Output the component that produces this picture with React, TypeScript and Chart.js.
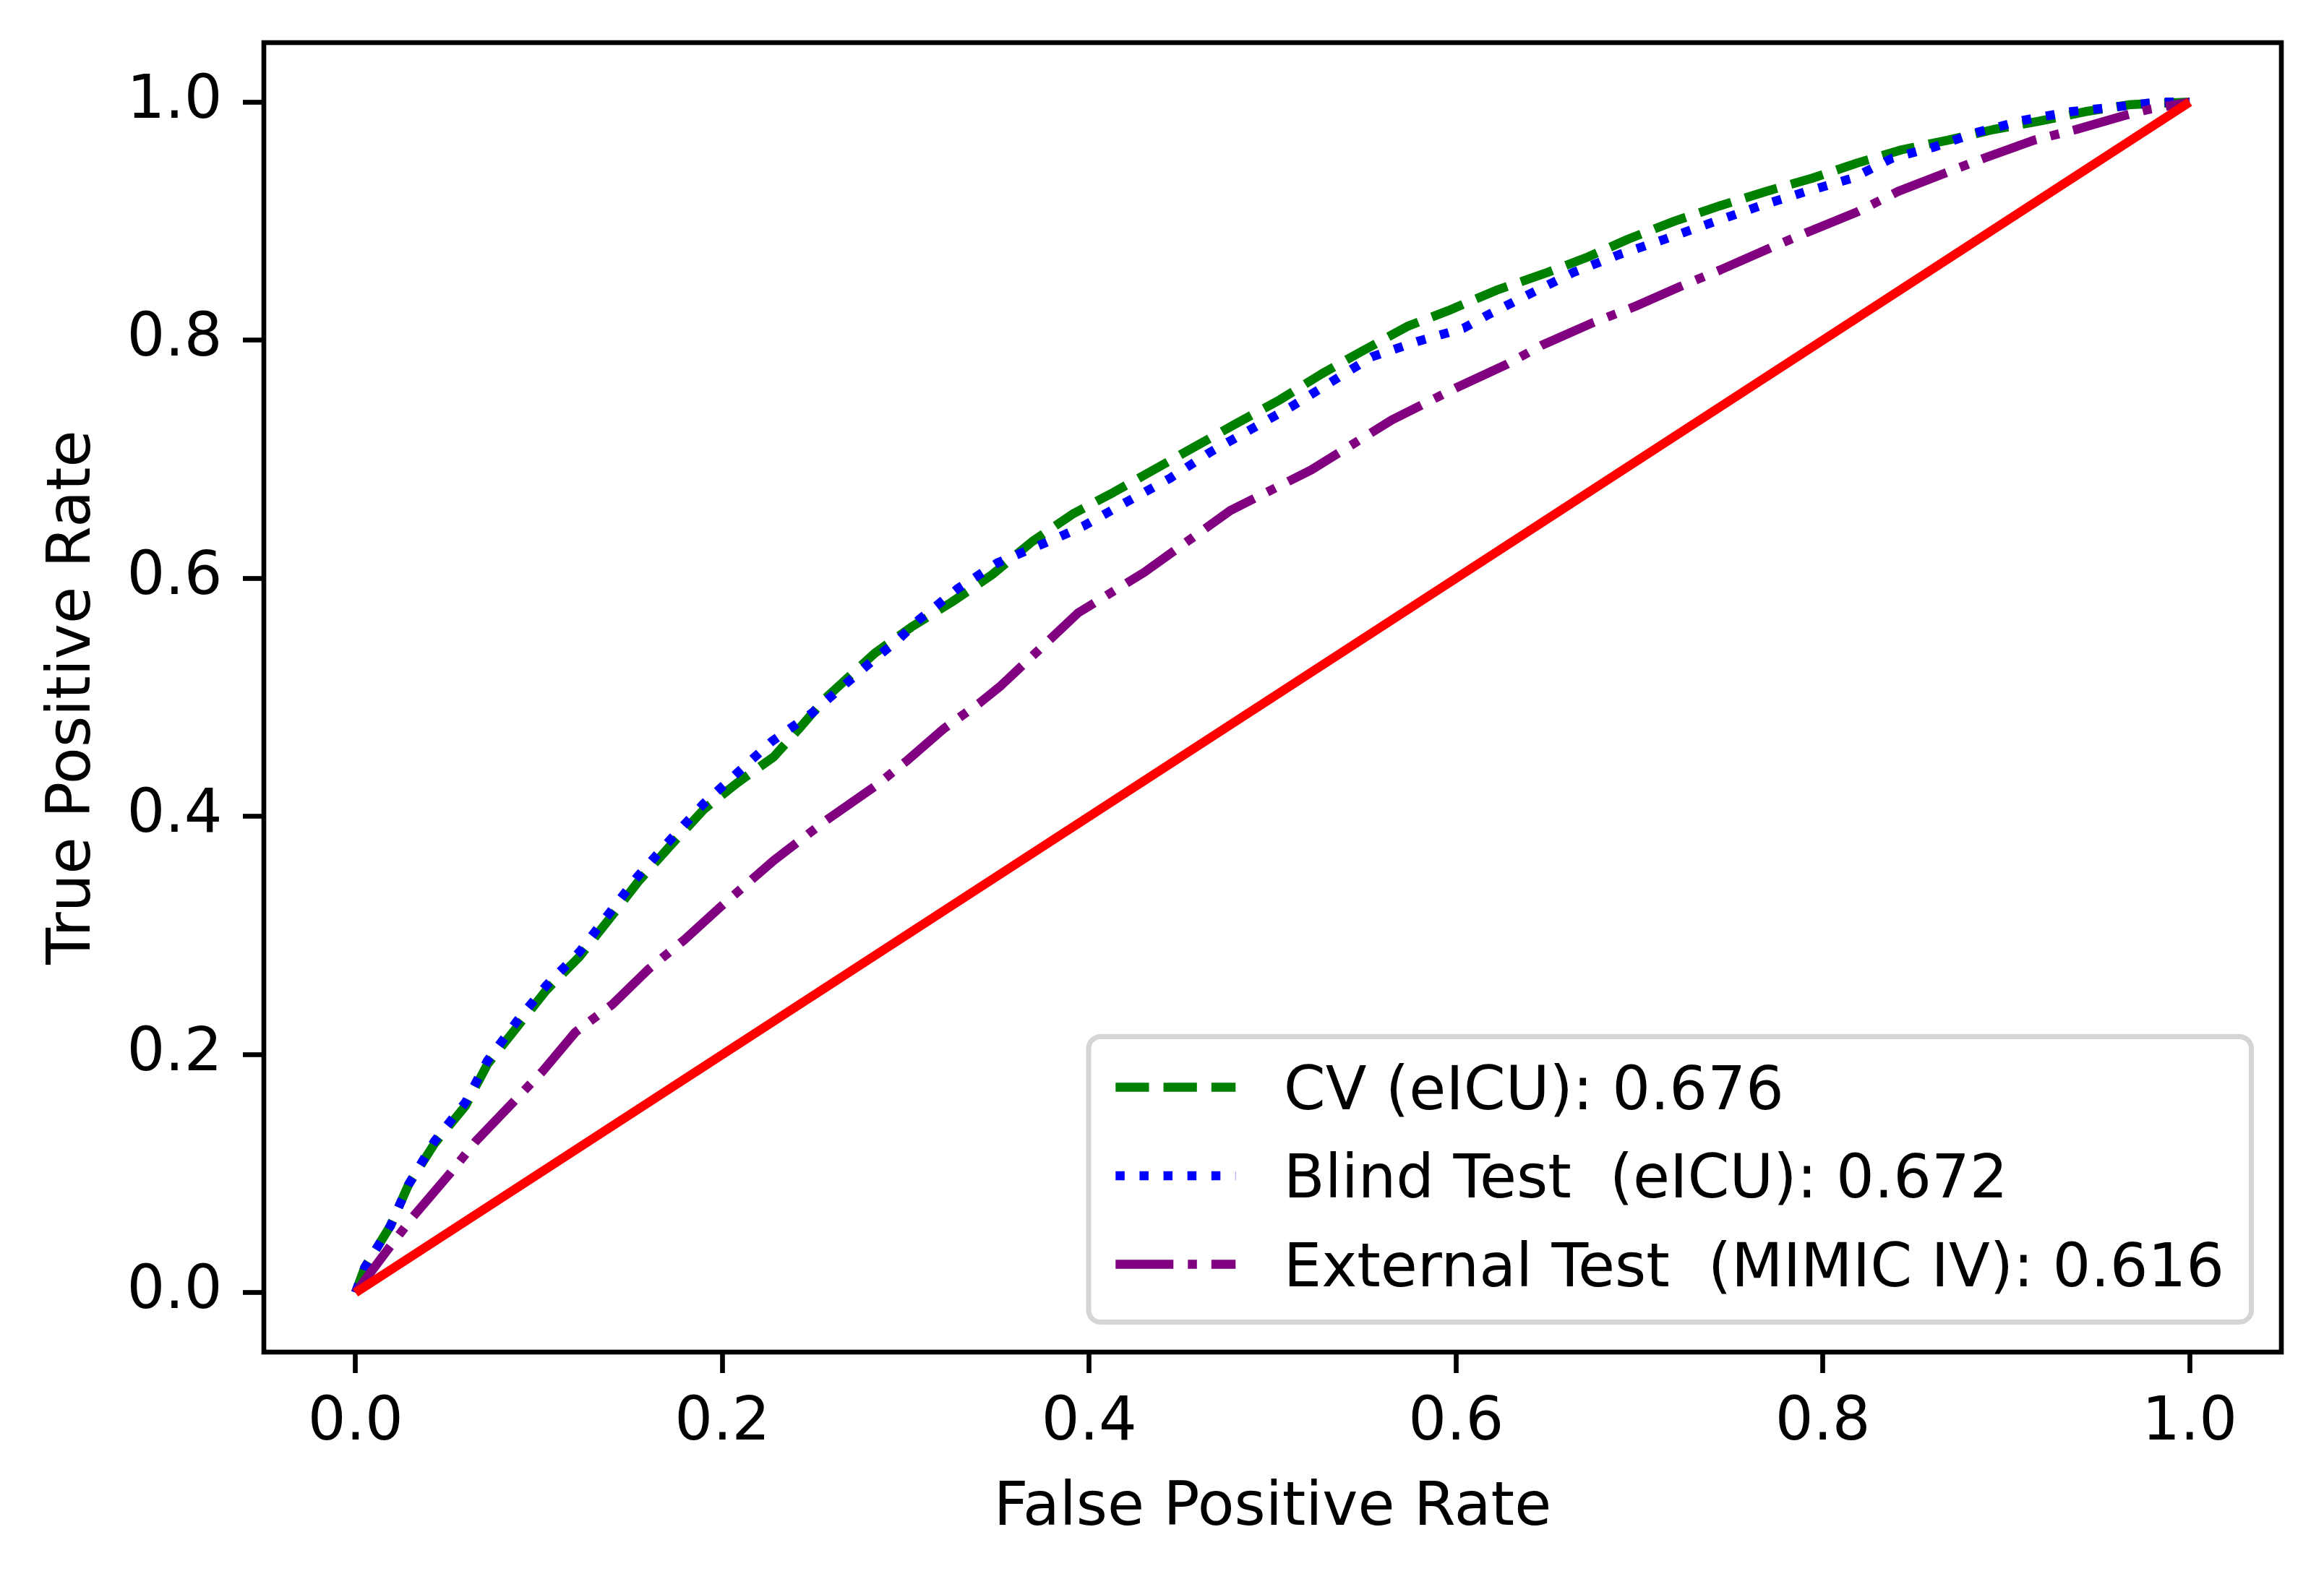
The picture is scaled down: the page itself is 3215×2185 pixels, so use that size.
import React, { useEffect, useRef } from "react";
import { Chart, registerables } from "chart.js";

Chart.register(...registerables);

// ---------- data ----------
const CV_FPR = [0, 0.005, 0.019, 0.029, 0.043, 0.06, 0.072, 0.088, 0.104, 0.122, 0.14, 0.154, 0.172, 0.19, 0.208, 0.228, 0.242, 0.256, 0.283, 0.303, 0.325, 0.347, 0.369, 0.391, 0.413, 0.435, 0.457, 0.479, 0.504, 0.527, 0.549, 0.574, 0.596, 0.622, 0.65, 0.672, 0.694, 0.719, 0.744, 0.769, 0.794, 0.819, 0.843, 0.868, 0.893, 0.918, 0.943, 0.968, 1];
const CV_TPR = [0, 0.021, 0.056, 0.091, 0.125, 0.157, 0.192, 0.223, 0.254, 0.282, 0.317, 0.345, 0.376, 0.406, 0.428, 0.45, 0.474, 0.499, 0.537, 0.559, 0.58, 0.603, 0.631, 0.654, 0.672, 0.691, 0.71, 0.729, 0.75, 0.772, 0.791, 0.812, 0.825, 0.842, 0.857, 0.87, 0.885, 0.9, 0.913, 0.925, 0.936, 0.949, 0.96, 0.968, 0.977, 0.984, 0.992, 0.998, 1];

const BLIND_FPR = [0, 0.005, 0.019, 0.029, 0.043, 0.06, 0.072, 0.088, 0.104, 0.122, 0.14, 0.154, 0.172, 0.19, 0.207, 0.227, 0.249, 0.258, 0.279, 0.297, 0.307, 0.328, 0.35, 0.361, 0.384, 0.397, 0.419, 0.444, 0.466, 0.488, 0.51, 0.532, 0.554, 0.579, 0.604, 0.617, 0.639, 0.664, 0.689, 0.714, 0.738, 0.766, 0.791, 0.816, 0.838, 0.86, 0.885, 0.91, 0.935, 0.96, 0.982, 1];
const BLIND_TPR = [0, 0.021, 0.056, 0.091, 0.127, 0.16, 0.195, 0.228, 0.258, 0.286, 0.322, 0.35, 0.381, 0.411, 0.435, 0.463, 0.487, 0.499, 0.527, 0.55, 0.565, 0.591, 0.613, 0.62, 0.635, 0.644, 0.663, 0.684, 0.706, 0.725, 0.744, 0.765, 0.786, 0.799, 0.81, 0.821, 0.838, 0.857, 0.872, 0.885, 0.898, 0.913, 0.925, 0.936, 0.953, 0.962, 0.975, 0.985, 0.992, 0.996, 1.0, 1];

const EXT_FPR = [0, 0.017, 0.0315, 0.052, 0.0655, 0.086, 0.102, 0.12, 0.14, 0.16, 0.179, 0.199, 0.228, 0.256, 0.283, 0.3, 0.321, 0.34, 0.352, 0.394, 0.43, 0.477, 0.521, 0.565, 0.6, 0.628, 0.647, 0.675, 0.697, 0.722, 0.744, 0.772, 0.792, 0.819, 0.841, 0.866, 0.888, 0.915, 0.938, 0.965, 0.978, 1];
const EXT_TPR = [0, 0.035, 0.064, 0.101, 0.127, 0.16, 0.186, 0.219, 0.242, 0.272, 0.296, 0.324, 0.363, 0.396, 0.425, 0.446, 0.474, 0.495, 0.51, 0.571, 0.605, 0.657, 0.691, 0.733, 0.76, 0.78, 0.796, 0.815, 0.828, 0.845, 0.859, 0.878, 0.891, 0.908, 0.925, 0.94, 0.953, 0.968, 0.977, 0.989, 0.994, 1];

const DIAG_FPR = [0, 1];
const DIAG_TPR = [0, 1];

const SERIES_LABELS = ["CV (eICU): 0.676", "Blind Test  (eICU): 0.672", "External Test  (MIMIC IV): 0.616"];
const X_TICKS = [0, 0.2, 0.4, 0.6, 0.8, 1.0];
const Y_TICKS = [0, 0.2, 0.4, 0.6, 0.8, 1.0];
const X_TITLE = "False Positive Rate";
const Y_TITLE = "True Positive Rate";

// ---------- styles ----------
const W = 3215;
const H = 2185;
const FS = 83;
const FONT_FAMILY = '"DejaVu Sans", "Liberation Sans", sans-serif';
const LW = 12.5;
const SPINE_W = 6.67;

const toPts = (xs: number[], ys: number[]) => xs.map((x, i) => ({ x, y: ys[i] }));

const framePlugin = {
  id: "mplFrame",
  afterDatasetsDraw(chart: any) {
    const { ctx, chartArea } = chart;
    ctx.save();
    ctx.strokeStyle = "#000";
    ctx.lineWidth = SPINE_W;
    ctx.lineJoin = "miter";
    ctx.strokeRect(chartArea.left, chartArea.top, chartArea.right - chartArea.left, chartArea.bottom - chartArea.top);
    ctx.restore();
  },
  afterDraw(chart: any) {
    const { ctx, chartArea } = chart;
    const items = chart.data.datasets.filter((d: any) => d.label);
    ctx.save();
    ctx.font = `${FS}px ${FONT_FAMILY}`;
    let maxW = 0;
    items.forEach((d: any) => {
      maxW = Math.max(maxW, ctx.measureText(d.label).width);
    });
    const borderPad = 0.45 * FS;
    const handleLen = 2.0 * FS;
    const handlePad = 0.8 * FS;
    const axesPad = 0.5 * FS;
    const width = borderPad * 2 + handleLen + handlePad + maxW;
    const height = 4.76 * FS;
    const right = chartArea.right - axesPad;
    const bottom = chartArea.bottom - axesPad;
    const left = right - width;
    const top = bottom - height;
    const r = 0.2 * FS;
    // frame
    ctx.beginPath();
    ctx.moveTo(left + r, top);
    ctx.lineTo(right - r, top);
    ctx.arcTo(right, top, right, top + r, r);
    ctx.lineTo(right, bottom - r);
    ctx.arcTo(right, bottom, right - r, bottom, r);
    ctx.lineTo(left + r, bottom);
    ctx.arcTo(left, bottom, left, bottom - r, r);
    ctx.lineTo(left, top + r);
    ctx.arcTo(left, top, left + r, top, r);
    ctx.closePath();
    ctx.fillStyle = "rgba(255,255,255,0.8)";
    ctx.fill();
    ctx.strokeStyle = "#d5d5d5";
    ctx.lineWidth = 7;
    ctx.stroke();
    // rows
    items.forEach((d: any, i: number) => {
      const cy = top + 0.843 * FS + i * 1.476 * FS;
      const hx = left + borderPad;
      ctx.beginPath();
      ctx.setLineDash(d.borderDash || []);
      ctx.lineDashOffset = 0;
      ctx.strokeStyle = d.borderColor;
      ctx.lineWidth = d.borderWidth;
      ctx.lineCap = "butt";
      ctx.moveTo(hx, cy);
      ctx.lineTo(hx + handleLen, cy);
      ctx.stroke();
      ctx.setLineDash([]);
      ctx.fillStyle = "#000";
      ctx.textAlign = "left";
      ctx.textBaseline = "alphabetic";
      ctx.fillText(d.label, hx + handleLen + handlePad, cy + 0.365 * FS);
    });
    ctx.restore();
  },
};

export default function App() {
  const ref = useRef<HTMLCanvasElement | null>(null);

  useEffect(() => {
    if (!ref.current) return;
    const font = { family: FONT_FAMILY, size: FS };
    const tickGrid = {
      display: true,
      drawOnChartArea: false,
      drawTicks: true,
      tickLength: 29,
      tickWidth: SPINE_W,
      tickColor: "#000",
    };
    const chart = new Chart(ref.current, {
      type: "scatter",
      data: {
        datasets: [
          {
            label: SERIES_LABELS[0],
            data: toPts(CV_FPR, CV_TPR),
            showLine: true,
            borderColor: "#008000",
            backgroundColor: "#008000",
            borderWidth: LW,
            borderDash: [3.7 * LW, 1.6 * LW],
            borderJoinStyle: "round",
            pointRadius: 0,
            order: 3,
          },
          {
            label: SERIES_LABELS[1],
            data: toPts(BLIND_FPR, BLIND_TPR),
            showLine: true,
            borderColor: "#0000ff",
            backgroundColor: "#0000ff",
            borderWidth: LW,
            borderDash: [1 * LW, 1.65 * LW],
            borderJoinStyle: "round",
            pointRadius: 0,
            order: 2,
          },
          {
            label: SERIES_LABELS[2],
            data: toPts(EXT_FPR, EXT_TPR),
            showLine: true,
            borderColor: "#800080",
            backgroundColor: "#800080",
            borderWidth: LW,
            borderDash: [6.4 * LW, 1.6 * LW, 1 * LW, 1.6 * LW],
            borderJoinStyle: "round",
            pointRadius: 0,
            order: 1,
          },
          {
            label: "",
            data: toPts(DIAG_FPR, DIAG_TPR),
            showLine: true,
            borderColor: "#ff0000",
            backgroundColor: "#ff0000",
            borderWidth: LW,
            pointRadius: 0,
            order: 0,
          },
        ],
      },
      options: {
        responsive: false,
        animation: false,
        devicePixelRatio: 1,
        layout: { autoPadding: false, padding: { top: 59, right: 59, left: 0, bottom: 0 } },
        plugins: { legend: { display: false }, tooltip: { enabled: false } },
        elements: { line: { tension: 0 }, point: { radius: 0 } },
        scales: {
          x: {
            type: "linear",
            min: -0.05,
            max: 1.05,
            afterFit: (s: any) => {
              s.height = H - 1871;
              s.paddingLeft = 0;
              s.paddingRight = 0;
              s.paddingTop = 0;
              s.paddingBottom = 0;
            },
            afterBuildTicks: (s: any) => {
              s.ticks = X_TICKS.map((v) => ({ value: v }));
            },
            ticks: {
              callback: (v: any) => Number(v).toFixed(1),
              font,
              color: "#000",
              padding: 21,
              maxRotation: 0,
              autoSkip: false,
            },
            grid: tickGrid,
            border: { display: false },
            title: {
              display: true,
              text: X_TITLE,
              font,
              color: "#000",
              padding: { top: 0, bottom: 47 },
            },
          },
          y: {
            type: "linear",
            min: -0.05,
            max: 1.05,
            afterFit: (s: any) => {
              s.width = 365;
              s.paddingLeft = 0;
              s.paddingRight = 0;
              s.paddingTop = 0;
              s.paddingBottom = 0;
            },
            afterBuildTicks: (s: any) => {
              s.ticks = Y_TICKS.map((v) => ({ value: v }));
            },
            ticks: {
              callback: (v: any) => Number(v).toFixed(1),
              font,
              color: "#000",
              padding: 28.5,
              autoSkip: false,
            },
            grid: tickGrid,
            border: { display: false },
            title: {
              display: true,
              text: Y_TITLE,
              font,
              color: "#000",
              padding: { top: 53, bottom: 0 },
            },
          },
        },
      },
      plugins: [framePlugin],
    } as any);
    return () => chart.destroy();
  }, []);

  return (
    <div style={{ position: "fixed", left: 0, top: 0, width: W, height: H, background: "#fff" }}>
      <canvas ref={ref} width={W} height={H} style={{ width: W, height: H, display: "block" }} />
    </div>
  );
}
